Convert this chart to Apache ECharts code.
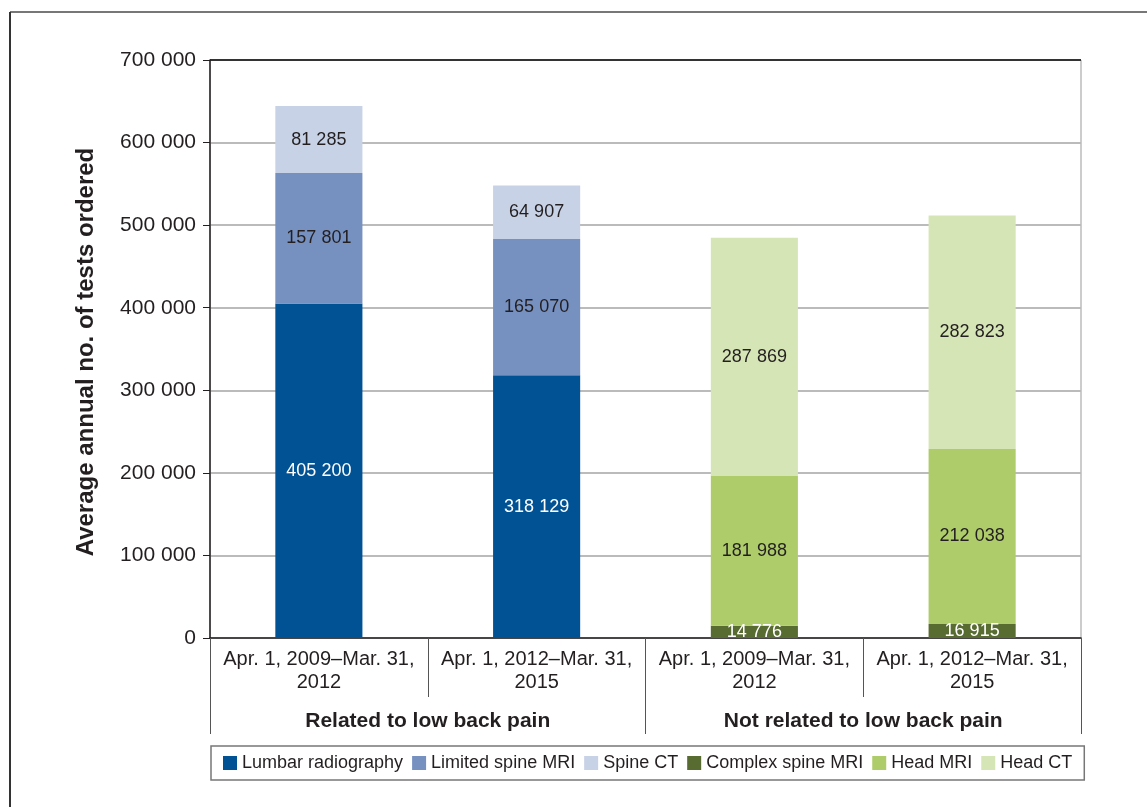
<!DOCTYPE html>
<html>
<head>
<meta charset="utf-8">
<script src="https://cdn.jsdelivr.net/npm/echarts@6/dist/echarts.min.js"></script>
<style>
  html, body { margin: 0; padding: 0; background: #fff; }
  #main { width: 1147px; height: 807px; }
</style>
</head>
<body>
<div id="main"></div>
<script>
var periods = ['Apr. 1, 2009\u2013Mar. 31,\n2012', 'Apr. 1, 2012\u2013Mar. 31,\n2015',
               'Apr. 1, 2009\u2013Mar. 31,\n2012', 'Apr. 1, 2012\u2013Mar. 31,\n2015'];
var groups = ['Related to low back pain', 'Not related to low back pain'];

var lumbarRadiography = [405200, 318129, '-', '-'];
var limitedSpineMRI   = [157801, 165070, '-', '-'];
var spineCT           = [81285, 64907, '-', '-'];
var complexSpineMRI   = ['-', '-', 14776, 16915];
var headMRI           = ['-', '-', 181988, 212038];
var headCT            = ['-', '-', 287869, 282823];

var font = 'Liberation Sans, Arial, Helvetica, sans-serif';
var ink = '#231f20';

function fmt(p) {
    return String(p.value).replace(/\B(?=(\d{3})+(?!\d))/g, ' ');
}

function bar(name, data, color, labelColor) {
    return {
        name: name,
        type: 'bar',
        stack: 'tests',
        barWidth: '40%',
        data: data,
        itemStyle: { color: color },
        label: {
            show: true,
            position: 'inside',
            formatter: fmt,
            color: labelColor,
            fontFamily: font,
            fontSize: 18
        }
    };
}

var myChart = echarts.init(document.getElementById('main'));
var option = {
    backgroundColor: '#fff',
    animation: false,
    textStyle: { fontFamily: font },
    graphic: [
        { type: 'line', shape: { x1: 10, y1: 12, x2: 1147, y2: 12 }, style: { stroke: '#777', lineWidth: 2 } },
        { type: 'line', shape: { x1: 10, y1: 12, x2: 10, y2: 807 }, style: { stroke: '#333', lineWidth: 2 } }
    ],
    grid: {
        left: 210, right: 66, top: 60, bottom: 169,
        show: true, borderColor: '#999', borderWidth: 1
    },
    legend: {
        bottom: 27,
        left: 211,
        padding: [8, 12],
        borderColor: '#777',
        borderWidth: 1.5,
        itemWidth: 14,
        itemHeight: 14,
        itemGap: 9,
        icon: 'rect',
        textStyle: { color: ink, fontSize: 18, fontFamily: font }
    },
    xAxis: [{
        type: 'category',
        data: periods,
        position: 'bottom',
        axisLine: { lineStyle: { color: ink, width: 1.5 } },
        axisTick: { show: true, length: 59, interval: 0, lineStyle: { color: '#555' } },
        axisLabel: { interval: 0, color: ink, fontSize: 20, lineHeight: 23, margin: 10, fontFamily: font }
    }, {
        type: 'category',
        data: groups,
        position: 'bottom',
        axisLine: { show: false },
        axisTick: { show: true, length: 96, interval: 0, lineStyle: { color: '#555' } },
        axisLabel: { interval: 0, color: ink, fontSize: 21, fontWeight: 'bold', margin: 73, fontFamily: font }
    }],
    yAxis: {
        type: 'value',
        min: 0, max: 700000, interval: 100000,
        name: 'Average annual no. of tests ordered',
        nameLocation: 'middle',
        nameGap: 112,
        nameTextStyle: { color: ink, fontSize: 24, fontWeight: 'bold', fontFamily: font, padding: [0, 6, 0, 0] },
        axisLine: { show: true, lineStyle: { color: ink, width: 1.5 } },
        axisTick: { show: true, length: 7, lineStyle: { color: ink } },
        axisLabel: {
            color: ink, fontSize: 21, margin: 14, fontFamily: font,
            formatter: function (v) { return String(v).replace(/\B(?=(\d{3})+(?!\d))/g, ' '); }
        },
        splitLine: {
            lineStyle: {
                color: ['#bbb', '#bbb', '#bbb', '#bbb', '#bbb', '#bbb', '#bbb', '#333'],
                width: 2
            }
        }
    },
    series: [
        bar('Lumbar radiography', lumbarRadiography, '#005294', '#fff'),
        bar('Limited spine MRI', limitedSpineMRI, '#7691c0', ink),
        bar('Spine CT', spineCT, '#c8d2e6', ink),
        bar('Complex spine MRI', complexSpineMRI, '#586b31', '#fff'),
        bar('Head MRI', headMRI, '#afcc6b', ink),
        bar('Head CT', headCT, '#d6e5b6', ink)
    ]
};
myChart.setOption(option);
</script>
</body>
</html>
